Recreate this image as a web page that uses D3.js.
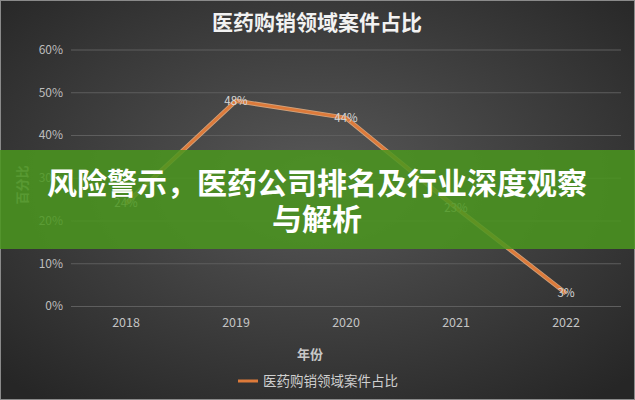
<!DOCTYPE html>
<html><head><meta charset="utf-8">
<script src="https://cdn.jsdelivr.net/npm/d3@7/dist/d3.min.js"></script>
<style>html,body{margin:0;padding:0;background:#333;}svg{display:block;}</style>
</head><body>
<script>
const years = ["2018","2019","2020","2021","2022"];
const values = [24, 48, 44, 23, 3];
const yTicks = [0, 10, 20, 30, 40, 50, 60];
const chartTitle = "医药购销领域案件占比";
const xTitle = "年份";
const yTitle = "百分比";
const bannerLines = ["风险警示，医药公司排名及行业深度观察", "与解析"];

const W = 635, H = 400;
const font = "'Noto Sans CJK SC','Noto Sans',sans-serif";
const svg = d3.select("body").append("svg").attr("width", W).attr("height", H);
const defs = svg.append("defs");
const rg = defs.append("radialGradient").attr("id","bg").attr("cx","50%").attr("cy","45%").attr("r","70%");
rg.append("stop").attr("offset","0%").attr("stop-color","#585858");
rg.append("stop").attr("offset","100%").attr("stop-color","#262626");
svg.append("rect").attr("width",W).attr("height",H).attr("fill","url(#bg)");
svg.append("rect").attr("x",0.5).attr("y",0.5).attr("width",W-1).attr("height",H-1)
  .attr("fill","none").attr("stroke","#8a8a8a").attr("stroke-width",1);

const x = d3.scaleBand().domain(years).range([71, 621]);
const y = d3.scaleLinear().domain([0, 60]).range([306, 49.5]);

// title
svg.append("text").attr("x", 317).attr("y", 30).attr("text-anchor","middle")
  .attr("font-family", font).attr("font-weight","bold").attr("font-size", 21)
  .attr("fill","#f2f2f2").text(chartTitle);

// gridlines & y axis
const yAxis = d3.axisLeft(y).tickValues(yTicks).tickFormat(d => d + "%").tickSize(-(621-71)).tickPadding(8);
const gy = svg.append("g").attr("transform","translate(71,0)").call(yAxis);
gy.select(".domain").remove();
gy.selectAll(".tick line").attr("stroke","#5e5e5e").attr("stroke-width",1);
gy.selectAll(".tick text").attr("fill","#bdbdbd").attr("font-family",font).attr("font-size",12);

// x axis
const xAxis = d3.axisBottom(x).tickSize(0).tickPadding(12);
const gx = svg.append("g").attr("transform","translate(0,306)").call(xAxis);
gx.select(".domain").remove();
gx.selectAll(".tick text").attr("fill","#c4c4c4").attr("font-family",font).attr("font-size",12.5);

// axis titles
svg.append("text").attr("x", 310).attr("y", 359).attr("text-anchor","middle")
  .attr("font-family",font).attr("font-weight","bold").attr("font-size",13).attr("fill","#c8c8c8").text(xTitle);
svg.append("text").attr("transform","translate(27,185) rotate(-90)").attr("text-anchor","middle")
  .attr("font-family",font).attr("font-weight","bold").attr("font-size",13).attr("fill","#a8a8a8").text(yTitle);

// line
const line = d3.line().x((d,i) => x(years[i]) + x.bandwidth()/2).y(d => y(d));
svg.append("path").datum(values).attr("d", line).attr("fill","none")
  .attr("stroke","#f2b98a").attr("stroke-width",4.5).attr("stroke-linejoin","round").attr("opacity",0.8);
svg.append("path").datum(values).attr("d", line).attr("fill","none")
  .attr("stroke","#dd7a3a").attr("stroke-width",2.8).attr("stroke-linejoin","round");

// data labels
svg.selectAll("text.lbl").data(values).enter().append("text").attr("class","lbl")
  .attr("x",(d,i) => x(years[i]) + x.bandwidth()/2).attr("y", d => y(d) + 4)
  .attr("text-anchor","middle").attr("font-family",font).attr("font-size",11.5)
  .attr("fill","#d6d6d6").text(d => d + "%");

// legend
svg.append("line").attr("x1",238).attr("x2",258).attr("y1",381).attr("y2",381)
  .attr("stroke","#dd7a3a").attr("stroke-width",3);
svg.append("text").attr("x",263).attr("y",386).attr("font-family",font).attr("font-size",13.5)
  .attr("fill","#cfcfcf").text(chartTitle);

// banner
svg.append("rect").attr("x",0).attr("y",150).attr("width",W).attr("height",99)
  .attr("fill","rgb(74,150,30)").attr("opacity",0.86);
svg.selectAll("text.ban").data(bannerLines).enter().append("text").attr("class","ban")
  .attr("x", 317).attr("y",(d,i) => 194 + i*36).attr("text-anchor","middle")
  .attr("font-family",font).attr("font-weight","bold").attr("font-size",30)
  .attr("fill","#ffffff").text(d => d);
</script>
</body></html>
